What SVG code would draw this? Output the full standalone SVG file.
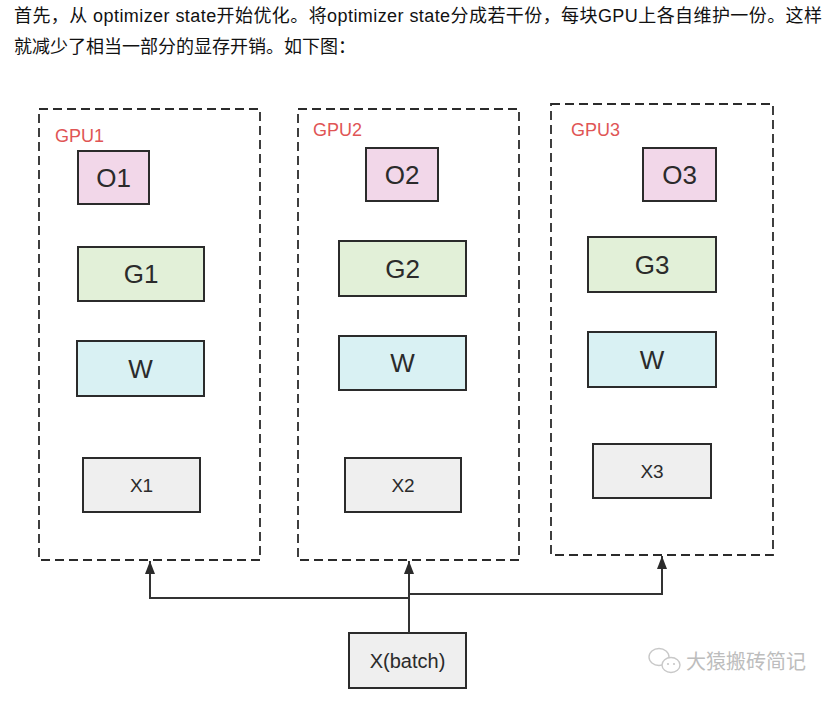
<svg xmlns="http://www.w3.org/2000/svg" width="837" height="702" viewBox="0 0 837 702">
<defs>
<style>
.para{font-family:"Liberation Sans","Noto Sans CJK SC",sans-serif;font-size:18px;fill:#111}
.gpu{fill:none;stroke:#2b2b2b;stroke-width:1.8;stroke-dasharray:9 5}
.glabel{font-family:"Liberation Sans",Arial,sans-serif;font-size:18px;fill:#e05555}
.box{stroke:#2b2b2b;stroke-width:2}
.o{fill:#f2d7e9}
.g{fill:#e2f0d8}
.w{fill:#d9f1f3}
.x{fill:#efefef}
.big{font-family:"Liberation Sans",Arial,sans-serif;font-size:26px;fill:#2b2b2b;text-anchor:middle;dominant-baseline:central}
.small{font-family:"Liberation Sans",Arial,sans-serif;font-size:19px;fill:#2b2b2b;text-anchor:middle;dominant-baseline:central}
.conn{fill:none;stroke:#333;stroke-width:2}
.wm{font-family:"Noto Sans CJK SC",sans-serif;font-size:20px;fill:#bdbdbd}
</style>
<marker id="arr" markerUnits="userSpaceOnUse" markerWidth="14" markerHeight="10" refX="13" refY="5" orient="auto">
<path d="M0,0 L13,5 L0,10 z" fill="#2b2b2b"/>
</marker>
</defs>
<rect width="837" height="702" fill="#ffffff"/>
<text class="para" x="14" y="22" textLength="808" lengthAdjust="spacing">首先，从 optimizer state开始优化。将optimizer state分成若干份，每块GPU上各自维护一份。这样</text>
<text class="para" x="14" y="53" textLength="342" lengthAdjust="spacing">就减少了相当一部分的显存开销。如下图：</text>

<g id="gpu1">
<rect class="gpu" x="39" y="109" width="221" height="451"/>
<text class="glabel" x="55" y="142">GPU1</text>
<g id="o1"><rect class="box o" x="78" y="151" width="71" height="53"/><text class="big" x="113.5" y="177.5">O1</text></g>
<g id="g1"><rect class="box g" x="78" y="247" width="126" height="54"/><text class="big" x="141" y="274">G1</text></g>
<g id="w1"><rect class="box w" x="77" y="341" width="127" height="55"/><text class="big" x="140.5" y="368.5">W</text></g>
<g id="x1"><rect class="box x" x="83" y="458" width="117" height="54"/><text class="small" x="141.5" y="485">X1</text></g>
</g>

<g id="gpu2">
<rect class="gpu" x="298" y="109" width="221" height="451"/>
<text class="glabel" x="313" y="136">GPU2</text>
<g id="o2"><rect class="box o" x="366" y="148" width="72" height="53"/><text class="big" x="402" y="174.5">O2</text></g>
<g id="g2"><rect class="box g" x="339" y="241" width="127" height="55"/><text class="big" x="402.5" y="268.5">G2</text></g>
<g id="w2"><rect class="box w" x="339" y="336" width="127" height="54"/><text class="big" x="402.5" y="363">W</text></g>
<g id="x2"><rect class="box x" x="345" y="458" width="116" height="54"/><text class="small" x="403" y="485">X2</text></g>
</g>

<g id="gpu3">
<rect class="gpu" x="551" y="104" width="222" height="451"/>
<text class="glabel" x="571" y="136">GPU3</text>
<g id="o3"><rect class="box o" x="643" y="148" width="73" height="53"/><text class="big" x="679.5" y="174.5">O3</text></g>
<g id="g3"><rect class="box g" x="588" y="237" width="128" height="55"/><text class="big" x="652" y="264.5">G3</text></g>
<g id="w3"><rect class="box w" x="588" y="332" width="128" height="55"/><text class="big" x="652" y="359.5">W</text></g>
<g id="x3"><rect class="box x" x="593" y="444" width="118" height="54"/><text class="small" x="652" y="471">X3</text></g>
</g>

<g id="xbatch">
<rect class="box x" x="349" y="633" width="117" height="55"/>
<text class="small" x="407.5" y="660.5" style="font-size:20px">X(batch)</text>
</g>

<g id="connectors">
<path class="conn" d="M409,633 L409,561" marker-end="url(#arr)"/>
<path class="conn" d="M409,598 L150,598 L150,561" marker-end="url(#arr)"/>
<path class="conn" d="M409,594 L662,594 L662,556" marker-end="url(#arr)"/>
</g>

<g id="watermark">
<ellipse cx="659" cy="657" rx="10" ry="8.5" fill="none" stroke="#c8c8c8" stroke-width="1.4"/>
<ellipse cx="671" cy="665" rx="9" ry="7.5" fill="#ffffff" stroke="#c8c8c8" stroke-width="1.4"/>
<circle cx="668" cy="664" r="1.1" fill="#c8c8c8"/>
<circle cx="674" cy="664" r="1.1" fill="#c8c8c8"/>
<text class="wm" x="686" y="669">大猿搬砖简记</text>
</g>
</svg>
